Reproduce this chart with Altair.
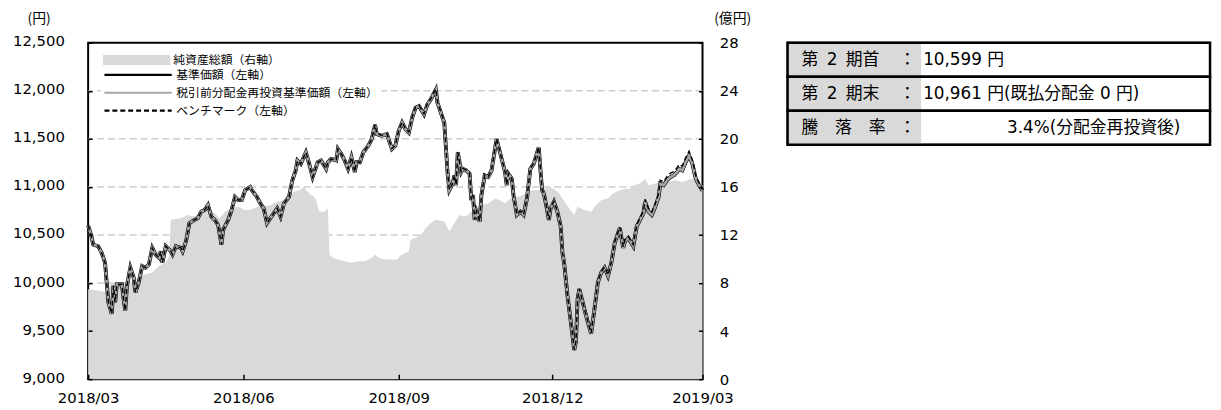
import altair as alt
import pandas as pd

FONT_NUM = "DejaVu Sans, Noto Sans CJK JP, sans-serif"
FONT_JP = "Noto Sans CJK JP, sans-serif"

# ---------------- data ----------------
start_date = "2018-03-13"
end_date = "2019-03-12"

asset_name = "純資産総額（右軸）"
asset_color = "#d9d9d9"
line_names = ["基準価額（左軸）", "税引前分配金再投資基準価額（左軸）", "ベンチマーク（左軸）"]
line_colors = ["#000000", "#a6a6a6", "#000000"]
line_dashes = [[1, 0], [1, 0], [5, 3]]
# thinnest -> thickest
width_order = ["ベンチマーク（左軸）", "税引前分配金再投資基準価額（左軸）", "基準価額（左軸）"]
width_range = [1.5, 3.9]

left_ticks = [9000, 9500, 10000, 10500, 11000, 11500, 12000, 12500]
grid_levels = [9500, 10000, 10500, 11000, 11500, 12000]
right_ticks = [0, 4, 8, 12, 16, 20, 24, 28]

# days after start of period
nav_days = [0, 2, 3, 6, 8, 10, 11, 12, 14, 15,
            16, 17, 20, 21, 22, 23, 25, 27, 28, 30,
            32, 34, 36, 38, 40, 42, 43, 44, 46, 49,
            50, 52, 55, 56, 58, 60, 63, 65, 67, 69,
            71, 73, 75, 77, 79, 80, 83, 85, 87, 89,
            91, 93, 96, 97, 100, 102, 104, 106, 108, 110,
            112, 114, 116, 119, 121, 123, 124, 126, 129, 131,
            133, 136, 138, 141, 142, 144, 147, 148, 150, 152,
            154, 156, 158, 159, 161, 163, 166, 168, 170, 171,
            174, 177, 180, 182, 184, 186, 188, 190, 192, 194,
            196, 199, 201, 203, 204, 206, 207, 209, 211, 213,
            214, 216, 217, 218, 219, 221, 222, 224, 226, 227,
            228, 229, 230, 232, 233, 235, 237, 239, 242, 243,
            245, 247, 248, 249, 251, 252, 254, 256, 258, 260,
            262, 264, 267, 268, 269, 270, 271, 273, 274, 276,
            278, 280, 281, 282, 284, 286, 288, 289, 290, 291,
            293, 295, 298, 300, 302, 304, 306, 308, 310, 312,
            315, 317, 318, 320, 323, 325, 327, 329, 330, 332,
            334, 336, 338, 339, 341, 343, 345, 347, 349, 350,
            352, 354, 356, 358, 360, 362, 364]

nav = [10599, 10485, 10400, 10383, 10315, 10212, 10006, 9800, 9680, 9971,
       9800, 9988, 9988, 9834, 9713, 9971, 10160, 10057, 9903, 10006,
       10177, 10160, 10194, 10366, 10297, 10263, 10331, 10212, 10383, 10331,
       10297, 10383, 10366, 10331, 10434, 10623, 10657, 10675, 10743, 10760,
       10812, 10691, 10657, 10606, 10400, 10554, 10657, 10760, 10897, 10863,
       10863, 10966, 11000, 10966, 10897, 10829, 10777, 10623, 10675, 10726,
       10777, 10691, 10829, 10897, 11069, 11172, 11275, 11240, 11360, 11240,
       11103, 11257, 11275, 11189, 11257, 11292, 11275, 11395, 11343, 11275,
       11189, 11309, 11155, 11257, 11257, 11360, 11429, 11498, 11645, 11550,
       11532, 11550, 11395, 11429, 11584, 11669, 11601, 11566, 11721, 11824,
       11841, 11755, 11858, 11910, 11944, 12013, 11875, 11772, 11669, 11137,
       10966, 11034, 11120, 11018, 11360, 11155, 11189, 11172, 11137, 10863,
       10914, 10657, 10743, 10640, 10914, 11120, 11103, 11172, 11498, 11429,
       11292, 11155, 11018, 11137, 11086, 10914, 10709, 10743, 10709, 10880,
       11189, 11240, 11412, 11172, 10966, 10931, 10846, 10657, 10777, 10846,
       10743, 10588, 10315, 10212, 9868, 9594, 9302, 9388, 9834, 9937,
       9800, 9662, 9473, 9731, 10006, 10109, 10160, 10074, 10212, 10417,
       10572, 10366, 10434, 10469, 10383, 10588, 10657, 10726, 10846, 10743,
       10709, 10794, 10897, 11034, 11018, 11069, 11103, 11120, 11155, 11189,
       11172, 11257, 11326, 11240, 11086, 11018, 10961]

reinvest_nav = [10599, 10485, 10400, 10383, 10315, 10212, 10006, 9800, 9680, 9971,
                9800, 9988, 9988, 9834, 9713, 9971, 10160, 10057, 9903, 10006,
                10177, 10160, 10194, 10366, 10297, 10263, 10331, 10212, 10383, 10331,
                10297, 10383, 10366, 10331, 10434, 10623, 10657, 10675, 10743, 10760,
                10812, 10691, 10657, 10606, 10400, 10554, 10657, 10760, 10897, 10863,
                10863, 10966, 11000, 10966, 10897, 10829, 10777, 10623, 10675, 10726,
                10777, 10691, 10829, 10897, 11069, 11172, 11275, 11240, 11360, 11240,
                11103, 11257, 11275, 11189, 11257, 11292, 11275, 11395, 11343, 11275,
                11189, 11309, 11155, 11257, 11257, 11360, 11429, 11498, 11645, 11550,
                11532, 11550, 11395, 11429, 11584, 11669, 11601, 11566, 11721, 11824,
                11841, 11755, 11858, 11910, 11944, 12013, 11875, 11772, 11669, 11137,
                10966, 11034, 11120, 11018, 11360, 11155, 11189, 11172, 11137, 10863,
                10914, 10657, 10743, 10640, 10914, 11120, 11103, 11172, 11498, 11429,
                11292, 11155, 11018, 11137, 11086, 10914, 10709, 10743, 10709, 10880,
                11189, 11240, 11412, 11172, 10966, 10931, 10846, 10657, 10777, 10846,
                10743, 10588, 10315, 10212, 9868, 9594, 9302, 9388, 9834, 9937,
                9800, 9662, 9473, 9731, 10006, 10109, 10160, 10074, 10212, 10417,
                10572, 10366, 10434, 10469, 10383, 10588, 10657, 10726, 10846, 10743,
                10709, 10794, 10897, 11034, 11018, 11069, 11103, 11120, 11155, 11189,
                11172, 11257, 11326, 11240, 11086, 11018, 10961]

benchmark = [10599, 10485, 10400, 10383, 10315, 10212, 10006, 9800, 9680, 9971,
             9800, 9988, 9988, 9834, 9713, 9971, 10160, 10057, 9903, 10006,
             10177, 10160, 10194, 10366, 10297, 10263, 10331, 10212, 10383, 10331,
             10297, 10383, 10366, 10331, 10434, 10623, 10657, 10675, 10743, 10760,
             10812, 10691, 10657, 10606, 10400, 10554, 10657, 10760, 10897, 10863,
             10863, 10966, 11000, 10966, 10897, 10829, 10777, 10623, 10675, 10726,
             10777, 10691, 10829, 10897, 11069, 11172, 11275, 11240, 11360, 11240,
             11103, 11257, 11275, 11189, 11257, 11292, 11275, 11395, 11343, 11275,
             11189, 11309, 11155, 11257, 11257, 11360, 11429, 11498, 11650, 11555,
             11537, 11555, 11400, 11434, 11590, 11675, 11607, 11572, 11728, 11830,
             11848, 11762, 11865, 11917, 11951, 12020, 11882, 11779, 11676, 11142,
             10970, 11038, 11124, 11022, 11364, 11159, 11193, 11176, 11141, 10866,
             10917, 10660, 10746, 10643, 10917, 11123, 11106, 11175, 11502, 11433,
             11296, 11159, 11022, 11141, 11090, 10918, 10713, 10747, 10713, 10884,
             11193, 11244, 11416, 11176, 10970, 10935, 10850, 10661, 10781, 10850,
             10747, 10592, 10319, 10216, 9872, 9598, 9306, 9392, 9838, 9941,
             9805, 9667, 9478, 9736, 10012, 10116, 10167, 10082, 10220, 10427,
             10583, 10378, 10447, 10483, 10398, 10603, 10677, 10751, 10871, 10773,
             10739, 10824, 10932, 11069, 11053, 11109, 11143, 11160, 11200, 11234,
             11217, 11302, 11371, 11280, 11116, 11038, 10971]

asset_days = [0, 7, 11, 13, 18, 25, 30, 34, 38, 42,
              46, 48, 49, 55, 59, 63, 67, 71, 75, 78,
              81, 85, 89, 93, 96, 100, 104, 108, 112, 116,
              119, 122, 125, 128, 130, 132, 134, 135, 137, 140,
              142, 143, 145, 148, 152, 156, 160, 164, 168, 170,
              172, 176, 180, 183, 185, 188, 190, 191, 194, 198,
              200, 203, 206, 211, 214, 217, 220, 223, 225, 229,
              233, 237, 241, 244, 247, 250, 255, 259, 263, 266,
              270, 274, 277, 279, 283, 288, 290, 294, 298, 301,
              304, 308, 311, 315, 318, 321, 323, 327, 330, 332,
              336, 340, 344, 348, 352, 355, 357, 360, 362, 364]

net_assets = [7.49, 7.35, 7.22, 7.90, 8.05, 8.05, 8.46, 8.73, 8.87, 9.41,
              9.69, 10.24, 13.26, 13.40, 13.67, 13.53, 13.94, 14.08, 13.81, 13.40,
              13.94, 14.22, 14.35, 14.08, 14.08, 14.35, 14.35, 14.49, 14.77, 14.90,
              15.18, 15.59, 15.73, 16.00, 15.59, 15.32, 15.18, 14.90, 13.94, 13.94,
              14.22, 10.38, 10.10, 9.96, 9.82, 9.69, 9.82, 9.82, 10.10, 10.38,
              10.10, 9.96, 9.96, 9.96, 10.30, 10.51, 10.65, 11.61, 11.75, 12.16,
              12.57, 12.99, 13.26, 13.12, 12.30, 12.99, 13.67, 13.53, 13.67, 14.22,
              14.49, 14.63, 15.04, 14.90, 14.63, 15.04, 15.18, 15.45, 15.73, 15.73,
              15.86, 16.00, 15.73, 15.45, 14.63, 13.67, 14.35, 14.08, 13.94, 14.49,
              14.90, 15.04, 15.45, 15.73, 15.86, 15.86, 16.14, 16.28, 16.69, 16.14,
              16.28, 16.41, 16.41, 16.55, 16.41, 16.55, 16.69, 16.55, 16.28, 16.14]

x_tick_dates = [(2018, 3, 13), (2018, 6, 13), (2018, 9, 13), (2018, 12, 13), (2019, 3, 12)]

table_labels = ["第\u20022\u2002期首", "第\u20022\u2002期末", "騰\u2003落\u2003率"]
table_colon = "："
table_values = ["10,599 円", "10,961 円(既払分配金 0 円)", "3.4%(分配金再投資後)"]

# ---------------- frames ----------------
base_date = pd.Timestamp(start_date)


def to_dates(days):
    return [(base_date + pd.Timedelta(days=d)).strftime("%Y-%m-%dT00:00:00") for d in days]


def line_frame(values, name):
    return pd.DataFrame({"date": to_dates(nav_days), "value": values, "series": name})


nav_df = line_frame(nav, line_names[0])
reinv_df = line_frame(reinvest_nav, line_names[1])
bench_df = line_frame(benchmark, line_names[2])
assets_df = pd.DataFrame({"date": to_dates(asset_days), "assets": net_assets, "series": asset_name})
grid_df = pd.DataFrame({"level": grid_levels})


def dt(t):
    return alt.DateTime(year=t[0], month=t[1], date=t[2])


sd = pd.Timestamp(start_date)
ed = pd.Timestamp(end_date)
x_scale = alt.Scale(domain=[dt((sd.year, sd.month, sd.day)), dt((ed.year, ed.month, ed.day))])
x_axis = alt.Axis(values=[dt(t) for t in x_tick_dates], format="%Y/%m", title=None,
                  labelFlush=False, labelOverlap=False, labelBound=False, grid=False, domain=False,
                  tickSize={"expr": "-5"}, tickColor="black", tickWidth=1.5, labelPadding=17,
                  labelFont=FONT_NUM, labelFontSize=15, labelColor="black", zindex=1)
x_enc = alt.X("date:T", scale=x_scale, axis=x_axis)

left_scale = alt.Scale(domain=[left_ticks[0], left_ticks[-1]], nice=False, zero=False)
left_axis = alt.Axis(values=left_ticks, format=",d", grid=False, domain=False,
                     tickSize={"expr": "-4"}, tickColor="black", tickWidth=1.5, labelPadding=28,
                     labelOffset=-2,
                     labelFont=FONT_NUM, labelFontSize=15, labelColor="black",
                     title="(円)", titleAngle=0, titleX=-50, titleY=-25, titleAlign="center",
                     titleBaseline="middle", titleFont=FONT_JP, titleFontSize=14,
                     titleFontWeight="normal", titleColor="black", zindex=1)
right_axis = alt.Axis(orient="right", values=right_ticks, grid=False, domain=False,
                      tickSize={"expr": "-4"}, tickColor="black", tickWidth=1.5, labelPadding=21,
                      labelFont=FONT_NUM, labelFontSize=15, labelColor="black", labelAlign="left",
                      title="(億円)", titleAngle=0, titleX=30, titleY=-25, titleAlign="center",
                      titleBaseline="middle", titleFont=FONT_JP, titleFontSize=14,
                      titleFontWeight="normal", titleColor="black", zindex=1)

legend_common = dict(title=None, orient="none", fillColor="white",
                     symbolSize=4624, clipHeight=15, labelOffset=3,
                     labelFont=FONT_JP, labelFontSize=12, labelColor="black", labelLimit=400)
area_legend = alt.Legend(legendX=10, legendY=5, padding=5, symbolType="M-1,-0.15L1,-0.15L1,0.15L-1,0.15Z",
                         symbolStrokeWidth=0, **legend_common)
line_legend = alt.Legend(legendX=13, legendY=23, padding=2, rowPadding=3, symbolType="stroke",
                         symbolStrokeWidth=2.2, **legend_common)

color_enc = alt.Color("series:N", scale=alt.Scale(domain=line_names, range=line_colors), legend=line_legend)
dash_enc = alt.StrokeDash("series:N", scale=alt.Scale(domain=line_names, range=line_dashes), legend=line_legend)
width_enc = alt.StrokeWidth("series:N", scale=alt.Scale(type="point", domain=width_order, range=width_range),
                            legend=None)

grid = alt.Chart(grid_df).mark_rule(color="#b4b4b4", strokeDash=[7, 4], strokeWidth=1).encode(
    y=alt.Y("level:Q", scale=left_scale, axis=None)
)

area = alt.Chart(assets_df).mark_area(opacity=1).encode(
    x=x_enc,
    y=alt.Y("assets:Q", scale=alt.Scale(domain=[right_ticks[0], right_ticks[-1]], nice=False), axis=right_axis),
    fill=alt.Fill("series:N", scale=alt.Scale(domain=[asset_name], range=[asset_color]), legend=area_legend),
)


def line_layer(df):
    return alt.Chart(df).mark_line().encode(
        x=x_enc,
        y=alt.Y("value:Q", scale=left_scale, axis=left_axis),
        color=color_enc,
        strokeDash=dash_enc,
        strokeWidth=width_enc,
    )


lines = alt.layer(line_layer(nav_df), line_layer(reinv_df), line_layer(bench_df))

main = alt.layer(grid, area, lines).resolve_scale(y="independent").properties(width=621, height=340)

# ---------------- table ----------------
table_df = pd.DataFrame({"row": list(range(len(table_labels))), "label": table_labels, "value": table_values})
tbase = alt.Chart(table_df).encode(
    y=alt.Y("row:O", axis=None, scale=alt.Scale(paddingInner=0, paddingOuter=0))
)
t_gray = tbase.mark_rect(color="#d9d9d9").encode(x=alt.value(0), x2=alt.value(135))
t_border = tbase.mark_rect(fillOpacity=0, stroke="black", strokeWidth=2.5).encode(x=alt.value(0), x2=alt.value(427))
t_labels = tbase.mark_text(align="left", baseline="middle", fontSize=17, font=FONT_NUM, color="black").encode(
    x=alt.value(14), text="label:N")
t_colon = tbase.mark_text(align="center", baseline="middle", fontSize=17, font=FONT_JP, color="black").encode(
    x=alt.value(121), text=alt.value(table_colon))
t_vals1 = tbase.transform_filter("datum.row < 2").mark_text(
    align="left", baseline="middle", fontSize=17, font=FONT_NUM, color="black").encode(
    x=alt.value(137), text="value:N")
t_vals2 = tbase.transform_filter("datum.row == 2").mark_text(
    align="right", baseline="middle", fontSize=17, font=FONT_NUM, color="black").encode(
    x=alt.value(397), text="value:N")
table = alt.layer(t_gray, t_border, t_labels, t_colon, t_vals1, t_vals2).properties(width=427, height=103)

chart = alt.hconcat(main, table, spacing=33).properties(
    padding={"left": 3, "top": 0, "right": 0, "bottom": 0}, background="white"
).configure_view(stroke="black", strokeWidth=2)

chart.save("out.html", embed_options={"renderer": "svg", "actions": False})
